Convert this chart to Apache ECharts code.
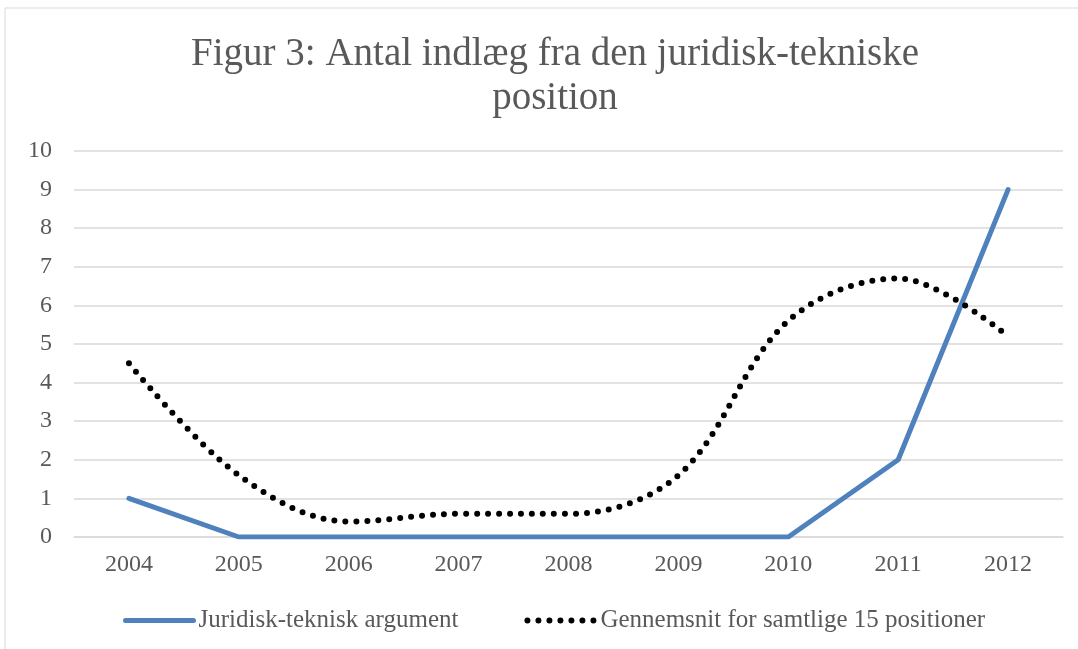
<!DOCTYPE html>
<html><head><meta charset="utf-8">
<script src="https://cdn.jsdelivr.net/npm/echarts@6/dist/echarts.min.js"></script>
<style>html,body{margin:0;padding:0;background:#fff}#c{width:1078px;height:649px}</style>
</head><body><div id="c"></div>
<script>
const categories = ['2004','2005','2006','2007','2008','2009','2010','2011','2012'];
const juridisk = [1,0,0,0,0,0,0,2,9];
const gennemsnit = [4.5,1.6,0.4,0.6,0.6,1.6,5.6,6.7,5.2];
const seriesNames = ['Juridisk-teknisk argument','Gennemsnit for samtlige 15 positioner'];
const FONT = '"Liberation Serif",serif';
const chart = echarts.init(document.getElementById('c'));
chart.setOption({
  animation:false,
  graphic:[{type:'rect',shape:{x:5,y:8,width:1080,height:660},style:{fill:'none',stroke:'#d9d9d9',lineWidth:1}}],
  title:{text:'Figur 3: Antal indlæg fra den juridisk-tekniske\nposition',left:550,top:28,textAlign:'center',
    textStyle:{fontFamily:FONT,fontWeight:'normal',fontSize:39,color:'#595959',lineHeight:44}},
  legend:{bottom:11,left:118,itemGap:66,itemWidth:68,itemHeight:14,
    itemStyle:{opacity:0},
    textStyle:{fontFamily:FONT,fontSize:25,color:'#595959'},
    data:[
      {name:seriesNames[0],lineStyle:{width:5,color:'#4f81bd',cap:'round'}},
      {name:seriesNames[1],lineStyle:{width:6,color:'#000',type:[0,11],cap:'round'}}
    ]},
  grid:{left:74,right:15,top:151,bottom:112},
  xAxis:{type:'category',data:categories,boundaryGap:true,
    axisLine:{lineStyle:{color:'#d9d9d9',width:1.5}},axisTick:{show:false},
    axisLabel:{fontFamily:FONT,fontSize:24,color:'#595959',margin:16}},
  yAxis:{type:'value',min:0,max:10,interval:1,
    axisLine:{show:false},axisTick:{show:false},
    splitLine:{lineStyle:{color:'#d9d9d9',width:1.5}},
    axisLabel:{fontFamily:FONT,fontSize:24,color:'#595959',margin:22}},
  series:[
    {name:seriesNames[0],type:'line',data:juridisk,symbol:'none',
      lineStyle:{color:'#4f81bd',width:5,cap:'round',join:'round'},itemStyle:{color:'#4f81bd'}},
    {name:seriesNames[1],type:'line',data:gennemsnit,symbol:'none',smooth:0.35,
      lineStyle:{color:'#000',width:6,type:[0,11],cap:'round'},itemStyle:{color:'#000'}}
  ]
});
</script></body></html>
